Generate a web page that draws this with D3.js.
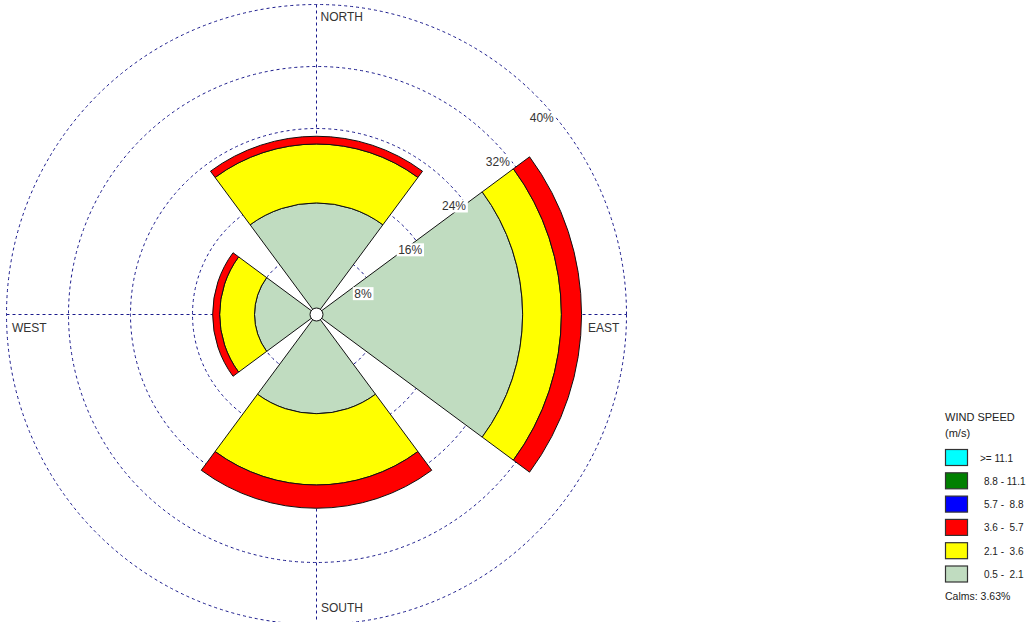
<!DOCTYPE html>
<html>
<head>
<meta charset="utf-8">
<script src="https://cdn.jsdelivr.net/npm/d3@7"></script>
<style>
  html, body { margin: 0; padding: 0; background: #fff; }
  svg { display: block; font-family: "Liberation Sans", Arial, sans-serif; }
  text { white-space: pre; }
</style>
</head>
<body>
<svg id="rose" width="1032" height="622"></svg>
<script>
// Direction sectors (compass degrees, clockwise from north)
const directions = ["NORTH", "EAST", "SOUTH", "WEST"];
const directionAngles = [0, 90, 180, 270];

// Frequency (%) per direction for each wind-speed class, innermost class first
const speed05to21 = [14.4, 26.6, 12.8, 8.0];
const speed21to36 = [7.6, 5.0, 9.2, 4.5];
const speed36to57 = [1.0, 2.6, 3.0, 0.9];
const speed57to88 = [0, 0, 0, 0];
const speed88to111 = [0, 0, 0, 0];
const speed111up = [0, 0, 0, 0];

const speedClasses = ["0.5 -  2.1", "2.1 -  3.6", "3.6 -  5.7", "5.7 -  8.8", "8.8 - 11.1", ">= 11.1"];
const speedColors = ["#C0DCC0", "#FFFF00", "#FF0000", "#0000FF", "#008000", "#00FFFF"];
const speedSeries = [speed05to21, speed21to36, speed36to57, speed57to88, speed88to111, speed111up];

const ringTicks = [8, 16, 24, 32, 40];
const calmsPct = 3.63;

const svg = d3.select("#rose");
const cx = 316.5, cy = 314.5;
const r = d3.scaleLinear().domain([0, 40]).range([0, 310]);
const halfWidth = 36.5 * Math.PI / 180;
const gridColor = "#1a1a8c";

const g = svg.append("g").attr("transform", `translate(${cx},${cy})`);

// Dashed reference rings and cross-hair
const grid = g.append("g");
grid.selectAll("circle.ring").data(ringTicks).join("circle")
  .attr("class", "ring")
  .attr("r", d => r(d))
  .attr("fill", "none")
  .attr("stroke", gridColor)
  .attr("stroke-width", 1)
  .attr("stroke-dasharray", "3,3");
grid.append("line")
  .attr("x1", 0).attr("x2", 0).attr("y1", -r(40)).attr("y2", r(40))
  .attr("stroke", gridColor).attr("stroke-dasharray", "3,3");
grid.append("line")
  .attr("y1", 0).attr("y2", 0).attr("x1", -r(40)).attr("x2", r(40))
  .attr("stroke", gridColor).attr("stroke-dasharray", "3,3");

// Stack the speed classes into cumulative bands per direction
const bands = [];
directions.forEach((dir, i) => {
  let acc = 0;
  speedSeries.forEach((series, k) => {
    const v = series[i];
    if (v > 0) {
      bands.push({ dir, angle: directionAngles[i] * Math.PI / 180, inner: acc, outer: acc + v, color: speedColors[k] });
    }
    acc += v;
  });
});

const arc = d3.arc()
  .innerRadius(d => r(d.inner))
  .outerRadius(d => r(d.outer))
  .startAngle(d => d.angle - halfWidth)
  .endAngle(d => d.angle + halfWidth);

g.append("g").selectAll("path").data(bands).join("path")
  .attr("d", arc)
  .attr("fill", d => d.color)
  .attr("stroke", "#111")
  .attr("stroke-width", 1)
  .attr("stroke-linejoin", "miter");

// Calms circle at the centre
g.append("circle").attr("r", 6.5).attr("fill", "#fff").attr("stroke", "#111").attr("stroke-width", 1);

// Ring percentage labels along the north-east diagonal
const diag = Math.PI / 4;
const ringLabels = g.append("g").selectAll("g").data(ringTicks).join("g")
  .attr("transform", d => `translate(${r(d) * Math.cos(diag) - 6},${-r(d) * Math.sin(diag) + 27})`);
ringLabels.each(function(d) {
  const sel = d3.select(this);
  const t = sel.append("text")
    .attr("font-size", 12)
    .attr("fill", "#333")
    .text(d + "%");
  const bb = t.node().getBBox();
  sel.insert("rect", "text")
    .attr("x", bb.x - 1.5).attr("y", bb.y + 0.5)
    .attr("width", bb.width + 3).attr("height", bb.height - 1)
    .attr("fill", "#fff");
});

// Compass labels
const compass = [
  { text: "NORTH", x: 4, y: -r(40) + 16 },
  { text: "EAST", x: 271.5, y: 17 },
  { text: "SOUTH", x: 4.5, y: 297.5 },
  { text: "WEST", x: -304.5, y: 17 }
];
g.append("g").selectAll("text").data(compass).join("text")
  .attr("x", d => d.x).attr("y", d => d.y)
  .attr("font-size", 12)
  .attr("fill", "#333")
  .text(d => d.text);

// Legend
const lg = svg.append("g").attr("transform", "translate(945,0)");
lg.append("text").attr("x", 0).attr("y", 421).attr("font-size", 11).attr("fill", "#222").text("WIND SPEED");
lg.append("text").attr("x", 0).attr("y", 437).attr("font-size", 11).attr("fill", "#222").text("(m/s)");

const legendItems = speedClasses.map((label, k) => ({ label, color: speedColors[k] })).reverse();
const rowY = d3.scaleLinear().domain([0, 1]).range([449.5, 472.8]);
const rows = lg.selectAll("g.row").data(legendItems).join("g")
  .attr("class", "row")
  .attr("transform", (d, i) => `translate(0,${rowY(i)})`);
rows.append("rect")
  .attr("x", 0.5).attr("y", 0)
  .attr("width", 22).attr("height", 16)
  .attr("fill", d => d.color)
  .attr("stroke", "#333").attr("stroke-width", 1.2);
rows.append("text")
  .attr("x", d => d.label.startsWith(">") ? 35 : 39)
  .attr("y", 12)
  .attr("font-size", 10)
  .attr("fill", "#222")
  .text(d => d.label);

lg.append("text").attr("x", 0).attr("y", 600).attr("font-size", 10.5).attr("fill", "#222")
  .text("Calms: " + calmsPct.toFixed(2) + "%");
</script>
</body>
</html>
